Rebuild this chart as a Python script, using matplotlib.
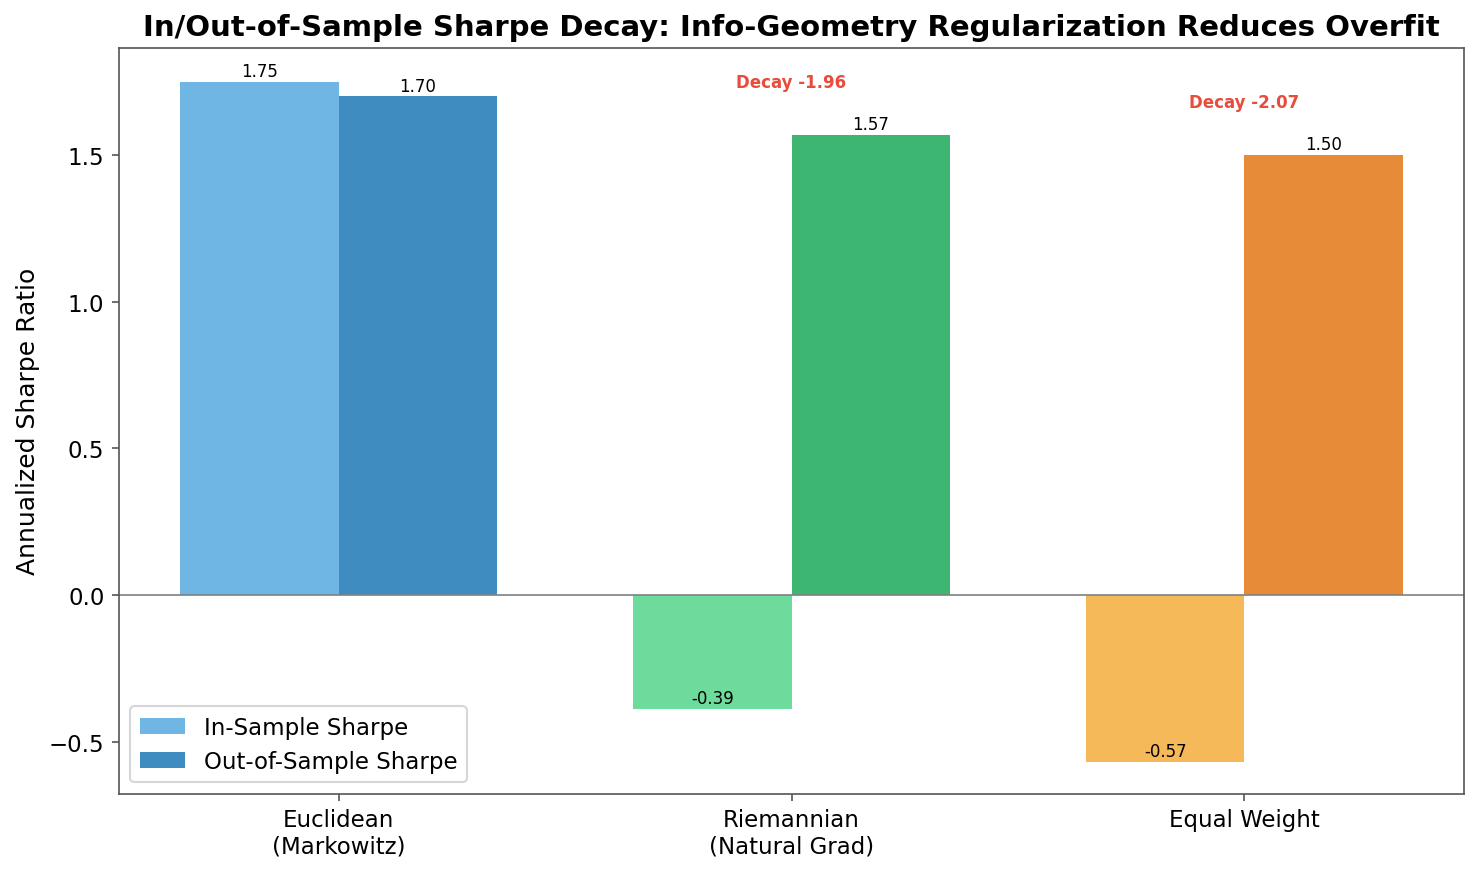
import matplotlib
matplotlib.use("Agg")
import matplotlib.pyplot as plt
import numpy as np

categories = ["Euclidean\n(Markowitz)", "Riemannian\n(Natural Grad)", "Equal Weight"]
in_sample = [1.75, -0.39, -0.57]
out_sample = [1.70, 1.57, 1.50]
is_colors = ["#3498db", "#2ecc71", "#f39c12"]
oos_colors = ["#2980b9", "#27ae60", "#e67e22"]

plt.rcParams["font.size"] = 11

fig = plt.figure(figsize=(1480 / 150, 880 / 150), dpi=150)
ax = fig.add_axes([119 / 1480, 1 - 794.7 / 880, (1464 - 119) / 1480, (794.7 - 49) / 880])

x = np.arange(len(categories))
w = 0.35
b1 = ax.bar(x - w / 2, in_sample, w, color=is_colors, alpha=0.7, label="In-Sample Sharpe")
b2 = ax.bar(x + w / 2, out_sample, w, color=oos_colors, alpha=0.9, label="Out-of-Sample Sharpe")

for bars in (b1, b2):
    for r in bars:
        h = r.get_height()
        ax.text(r.get_x() + r.get_width() / 2, h + 0.006, f"{h:.2f}",
                ha="center", va="bottom", fontsize=8)

for i in range(len(categories)):
    decay = in_sample[i] - out_sample[i]
    if abs(decay) > 0.5:
        ax.text(x[i], max(in_sample[i], out_sample[i]) + 0.15, f"Decay {decay:.2f}",
                ha="center", va="bottom", fontsize=8, fontweight="bold", color="#e74c3c")

ax.axhline(0, color="gray", linewidth=0.8)
ax.set_ylim(-0.678, 1.865)
ax.set_xticks(x)
ax.set_xticklabels(categories)
ax.set_ylabel("Annualized Sharpe Ratio", fontsize=12)
ax.set_title("In/Out-of-Sample Sharpe Decay: Info-Geometry Regularization Reduces Overfit",
             fontsize=14, fontweight="bold")
for s in ax.spines.values():
    s.set_color("#555555")
ax.tick_params(color="#555555")
ax.legend(loc="lower left")

fig.savefig("out.png", dpi=150)
